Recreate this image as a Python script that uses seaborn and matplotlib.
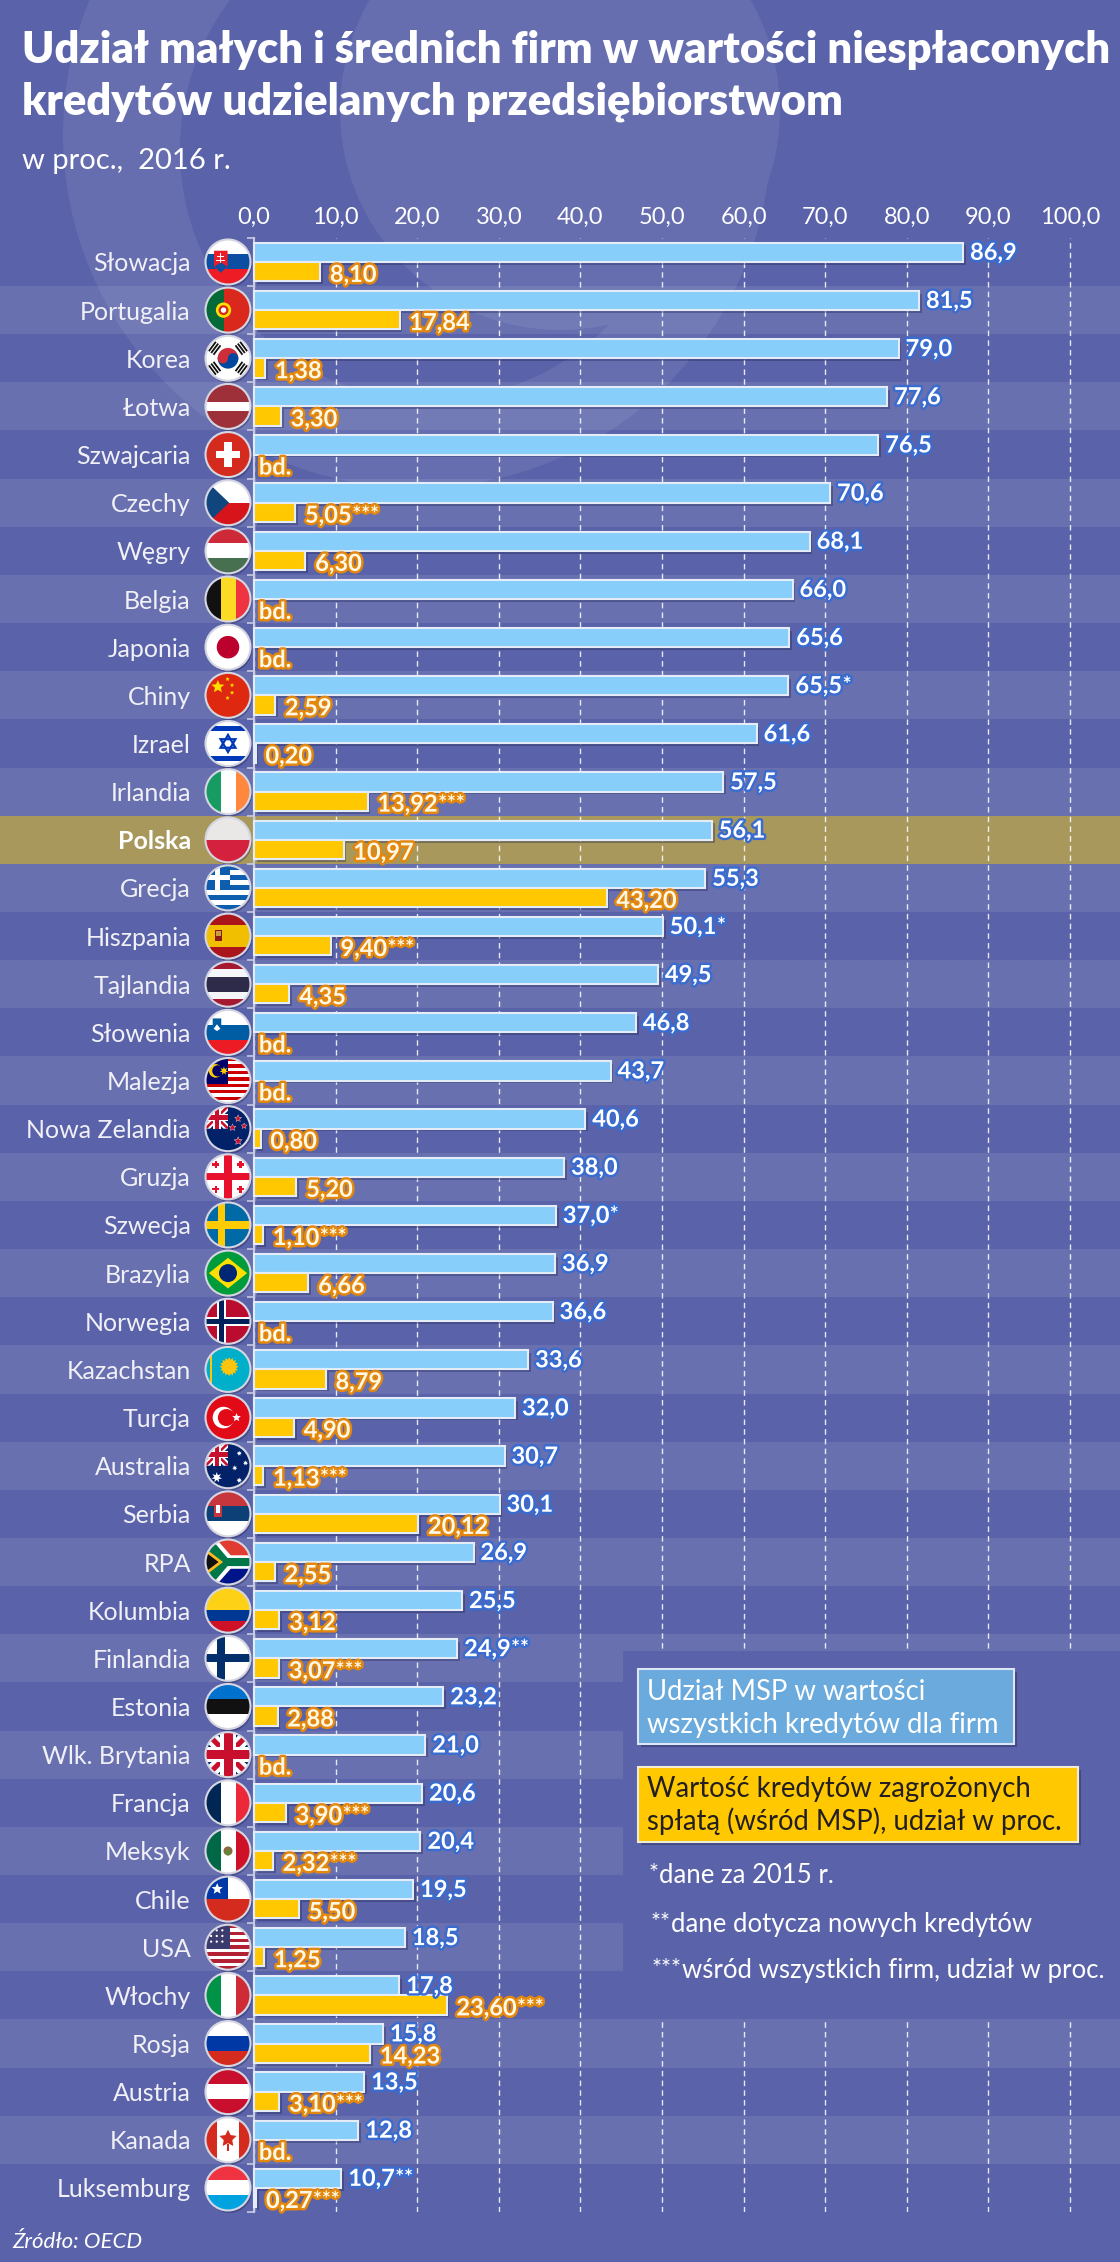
import matplotlib
matplotlib.use('Agg')

import numpy as np
import pandas as pd
import matplotlib.pyplot as plt
import matplotlib.patheffects as pe
from matplotlib.patches import Rectangle, Circle, Polygon, Wedge
import seaborn as sns

plt.rcParams['font.family'] = ['Lato', 'DejaVu Sans']

countries = ["Słowacja", "Portugalia", "Korea", "Łotwa", "Szwajcaria", "Czechy", "Węgry",
             "Belgia", "Japonia", "Chiny", "Izrael", "Irlandia", "Polska", "Grecja",
             "Hiszpania", "Tajlandia", "Słowenia", "Malezja", "Nowa Zelandia", "Gruzja",
             "Szwecja", "Brazylia", "Norwegia", "Kazachstan", "Turcja", "Australia", "Serbia",
             "RPA", "Kolumbia", "Finlandia", "Estonia", "Wlk. Brytania", "Francja", "Meksyk",
             "Chile", "USA", "Włochy", "Rosja", "Austria", "Kanada", "Luksemburg"]

# udział MSP w wartości wszystkich kredytów dla firm
msp_share = [86.9, 81.5, 79.0, 77.6, 76.5, 70.6, 68.1, 66.0, 65.6, 65.5, 61.6, 57.5, 56.1,
             55.3, 50.1, 49.5, 46.8, 43.7, 40.6, 38.0, 37.0, 36.9, 36.6, 33.6, 32.0, 30.7,
             30.1, 26.9, 25.5, 24.9, 23.2, 21.0, 20.6, 20.4, 19.5, 18.5, 17.8, 15.8, 13.5,
             12.8, 10.7]

# kredyty zagrożone (wśród MSP), None = bd.
npl_share = [8.10, 17.84, 1.38, 3.30, None, 5.05, 6.30, None, None, 2.59, 0.20, 13.92,
             10.97, 43.20, 9.40, 4.35, None, None, 0.80, 5.20, 1.10, 6.66, None, 8.79, 4.90,
             1.13, 20.12, 2.55, 3.12, 3.07, 2.88, None, 3.90, 2.32, 5.50, 1.25, 23.60, 14.23,
             3.10, None, 0.27]

msp_notes = {"Chiny": "*", "Hiszpania": "*", "Szwecja": "*", "Finlandia": "**", "Luksemburg": "**"}
npl_notes = {"Czechy": "***", "Irlandia": "***", "Hiszpania": "***", "Szwecja": "***",
             "Australia": "***", "Finlandia": "***", "Francja": "***", "Meksyk": "***",
             "Włochy": "***", "Austria": "***", "Luksemburg": "***"}

x_ticks = list(range(0, 101, 10))

BG = '#5A62A9'
WM = '#666EB0'
BLUE = '#87CEFA'
YELLOW = '#FFC800'
GOLD = '#A8985C'
BLUE_STROKE = '#3A6CD0'
ORANGE_STROKE = '#E3880C'

W, H = 1120, 2262
TOP, ROW = 237.9, 48.15
X0, PX100 = 254, 816
n = len(countries)

fig = plt.figure(figsize=(W / 100, H / 100), dpi=100, facecolor=BG)

# tło ze znakiem wodnym
bg = fig.add_axes([0, 0, 1, 1], zorder=-1)
bg.set_xlim(0, W)
bg.set_ylim(H, 0)
bg.axis('off')
bg.add_patch(Circle((417, 134), 354, fc=WM, lw=0))
bg.add_patch(Circle((430, 150), 250, fc=BG, lw=0))
bg.add_patch(Circle((560, 110), 220, fc=WM, lw=0))

ax = fig.add_axes([0, 1 - (TOP + n * ROW) / H, 1, n * ROW / H])
ax.set_facecolor('none')

df = pd.DataFrame({'kraj': countries * 2,
                   'wartosc': msp_share + [np.nan if v is None else v for v in npl_share],
                   'seria': ['msp'] * n + ['npl'] * n}).dropna()

sns.barplot(data=df, x='wartosc', y='kraj', hue='seria', order=countries,
            hue_order=['msp', 'npl'], palette={'msp': BLUE, 'npl': YELLOW}, saturation=1,
            orient='h', width=0.8, dodge=True, errorbar=None, legend=False,
            edgecolor='#E4ECF8', linewidth=1.5, ax=ax, zorder=3)
for p in list(ax.patches):
    p.set_path_effects([pe.SimplePatchShadow(offset=(2, -2), shadow_rgbFace='#1E2150', alpha=0.35),
                        pe.Normal()])

ax.set_xlim(-X0 / PX100 * 100, (W - X0) / PX100 * 100)
ax.set_ylim(n - 0.5, -0.5)
ax.set_xlabel('')
ax.set_ylabel('')

for i, c in enumerate(countries):
    if c == 'Polska':
        ax.axhspan(i - 0.5, i + 0.5, color=GOLD, lw=0, zorder=0.3)
    elif i % 2:
        ax.axhspan(i - 0.5, i + 0.5, color='white', alpha=0.09, lw=0, zorder=0.2)

ax.set_axisbelow(True)
ax.xaxis.tick_top()
ax.set_xticks(x_ticks)
ax.set_xticklabels([f'{v},0' for v in x_ticks])
ax.tick_params(axis='x', length=0, pad=7, labelsize=17, labelcolor='white')
ax.grid(axis='x', color='white', ls=(0, (4, 3)), lw=1, alpha=0.85)
ax.grid(axis='y', visible=False)

for s in ['top', 'right', 'bottom']:
    ax.spines[s].set_visible(False)
ax.spines['left'].set_position(('data', 0))
ax.spines['left'].set_color('#C8CAE0')
ax.spines['left'].set_linewidth(1.5)

ax.set_yticks(range(n))
ax.set_yticklabels(countries)
ax.set_yticks(np.arange(-0.5, n), minor=True)
ax.tick_params(axis='y', which='major', length=0, pad=45.5, labelsize=18, labelcolor='#F0F0F6')
ax.tick_params(axis='y', which='minor', length=5, width=1.2, color='#C8CAE0')
for t in ax.get_yticklabels():
    if t.get_text() == 'Polska':
        t.set_fontweight('bold')
        t.set_color('white')

# etykiety wartości
blue_fx = [pe.withStroke(linewidth=3.5, foreground=BLUE_STROKE)]
yel_fx = [pe.withStroke(linewidth=3.5, foreground=ORANGE_STROKE)]
for i, (c, v) in enumerate(zip(countries, msp_share)):
    t = ax.text(v + 0.85, i - 0.2, f'{v:.1f}'.replace('.', ','), color='white', fontsize=17,
                fontweight='bold', va='center', ha='left', path_effects=blue_fx, zorder=6)
    if c in msp_notes:
        ax.annotate(msp_notes[c], xy=(1, 1), xycoords=t, xytext=(0.3, -1),
                    textcoords='offset points', fontsize=15, fontweight='bold', color='white',
                    va='top', ha='left', path_effects=blue_fx, zorder=6)
for i, (c, v) in enumerate(zip(countries, npl_share)):
    if v is None:
        ax.text(0.6, i + 0.26, 'bd.', color='#FFF8E6', fontsize=17, fontweight='bold',
                va='center', ha='left', path_effects=yel_fx, zorder=6)
        continue
    t = ax.text(v + 1.2, i + 0.26, f'{v:.2f}'.replace('.', ','), color='#FFF8E6', fontsize=17,
                fontweight='bold', va='center', ha='left', path_effects=yel_fx, zorder=6)
    if c in npl_notes:
        ax.annotate(npl_notes[c], xy=(1, 1), xycoords=t, xytext=(0.3, -1),
                    textcoords='offset points', fontsize=15, fontweight='bold', color='#FFF8E6',
                    va='top', ha='left', path_effects=yel_fx, zorder=6)

# warstwa nakładki w pikselach
ov = fig.add_axes([0, 0, 1, 1], zorder=5)
ov.set_xlim(0, W)
ov.set_ylim(H, 0)
ov.axis('off')


def ypx(y):
    return H - ax.transData.transform((0, y))[1]


ov.text(22, 63, 'Udział małych i średnich firm w wartości niespłaconych', fontsize=31.3,
        fontweight='heavy', color='white', va='baseline')
ov.text(22, 115, 'kredytów udzielanych przedsiębiorstwom', fontsize=31.3,
        fontweight='heavy', color='white', va='baseline')
ov.text(22, 169, 'w proc.,  2016 r.', fontsize=21, color='white', va='baseline')
ov.text(12, 2248, 'Źródło: OECD', fontsize=16, style='italic', color='white', va='baseline')

# legenda
ov.add_patch(Rectangle((623, 1651), W - 623, ypx(36.5) - 1651, fc=BG, lw=0, zorder=1))
shadow = [pe.SimplePatchShadow(offset=(2, -2), shadow_rgbFace='#1E2150', alpha=0.4), pe.Normal()]
ov.add_patch(Rectangle((638, 1669), 376, 75, fc='#6AAADC', ec='#DCE6F4', lw=1.5, zorder=2,
                       path_effects=shadow))
ov.add_patch(Rectangle((638, 1767), 440, 75, fc=YELLOW, ec='#F4ECD0', lw=1.5, zorder=2,
                       path_effects=shadow))
ov.text(647, 1700, 'Udział MSP w wartości', fontsize=19.8, color='white', va='baseline', zorder=3)
ov.text(647, 1733, 'wszystkich kredytów dla firm', fontsize=19.8, color='white', va='baseline',
        zorder=3)
ov.text(647, 1797, 'Wartość kredytów zagrożonych', fontsize=19.8, color='#231F20',
        va='baseline', zorder=3)
ov.text(647, 1830, 'spłatą (wśród MSP), udział w proc.', fontsize=19.8, color='#231F20',
        va='baseline', zorder=3)
for stars, xt, yb, txt in [('*', 659, 1883, 'dane za 2015 r.'),
                           ('**', 671, 1932, 'dane dotycza nowych kredytów'),
                           ('***', 682, 1978, 'wśród wszystkich firm, udział w proc.')]:
    ov.text(xt, yb - 3, stars, fontsize=17, color='white', va='baseline', ha='right', zorder=3)
    ov.text(xt, yb, txt, fontsize=18.5, color='white', va='baseline', zorder=3)


# flagi
def star_pts(x, y, r, k=5, inner=0.45):
    a = -np.pi / 2 + np.arange(2 * k) * np.pi / k
    rr = np.where(np.arange(2 * k) % 2 == 0, r, r * inner)
    return list(zip(x + rr * np.cos(a), y + rr * np.sin(a)))


def draw_flag(name, cx, cy, R):
    clip = Circle((cx, cy), R, transform=ov.transData)

    def put(p):
        p.set_zorder(5)
        ov.add_patch(p)
        p.set_clip_path(clip)

    def poly(pts, c, **kw):
        put(Polygon([(cx + x * R, cy + y * R) for x, y in pts], closed=True, fc=c,
                    ec=kw.get('ec', 'none'), lw=kw.get('lw', 0), fill=kw.get('fill', True)))

    def rect(x, y, w, h, c):
        poly([(x, y), (x + w, y), (x + w, y + h), (x, y + h)], c)

    def disc(x, y, r, c):
        put(Circle((cx + x * R, cy + y * R), r * R, fc=c, lw=0))

    def star(x, y, r, c, k=5, inner=0.45):
        poly(star_pts(x, y, r, k, inner), c)

    def hs(cols, wts=None):
        wts = np.array(wts or [1] * len(cols), float)
        edges = -1 + np.concatenate([[0], np.cumsum(wts)]) / wts.sum() * 2
        for col, a, b in zip(cols, edges[:-1], edges[1:]):
            rect(-1, a, 2, b - a, col)

    def vs(cols, wts=None):
        wts = np.array(wts or [1] * len(cols), float)
        edges = -1 + np.concatenate([[0], np.cumsum(wts)]) / wts.sum() * 2
        for col, a, b in zip(cols, edges[:-1], edges[1:]):
            rect(a, -1, b - a, 2, col)

    def cross(x, y, w, c):
        rect(x - w / 2, -1, w, 2, c)
        rect(-1, y - w / 2, 2, w, c)

    def union_jack(x0, y0, x1, y1):
        w = x1 - x0
        rect(x0, y0, w, y1 - y0, '#012169')
        for t, c in [(0.2 * w, 'white'), (0.08 * w, '#C8102E')]:
            poly([(x0, y0), (x0 + t, y0), (x1, y1 - t), (x1, y1), (x1 - t, y1), (x0, y0 + t)], c)
            poly([(x0, y1), (x0, y1 - t), (x1 - t, y0), (x1, y0), (x1, y0 + t), (x0 + t, y1)], c)
        xm, ym = (x0 + x1) / 2, (y0 + y1) / 2
        for t, c in [(0.34 * w, 'white'), (0.2 * w, '#C8102E')]:
            rect(xm - t / 2, y0, t, y1 - y0, c)
            rect(x0, ym - t / 2, w, t, c)

    if name == 'Słowacja':
        hs(['#FFFFFF', '#0B4EA2', '#EE1C25'])
        poly([(-0.62, -0.5), (-0.02, -0.5), (-0.02, 0.2), (-0.32, 0.5), (-0.62, 0.2)], '#EE1C25')
        rect(-0.35, -0.4, 0.06, 0.6, 'white')
        rect(-0.47, -0.26, 0.30, 0.06, 'white')
        rect(-0.52, -0.1, 0.40, 0.07, 'white')
        poly([(-0.6, 0.2), (-0.32, 0.02), (-0.04, 0.2), (-0.32, 0.48)], '#0B4EA2')
    elif name == 'Portugalia':
        vs(['#046A38', '#DA291C'], [2, 3])
        disc(-0.2, 0, 0.34, '#FFE000')
        disc(-0.2, 0, 0.22, '#DA291C')
        disc(-0.2, 0, 0.12, 'white')
    elif name == 'Korea':
        rect(-1, -1, 2, 2, 'white')
        put(Wedge((cx, cy), 0.46 * R, 180, 360, fc='#CD2E3A', lw=0))
        put(Wedge((cx, cy), 0.46 * R, 0, 180, fc='#0047A0', lw=0))
        disc(-0.23, 0, 0.23, '#CD2E3A')
        disc(0.23, 0, 0.23, '#0047A0')
        for sx, sy in [(-1, -1), (1, -1), (-1, 1), (1, 1)]:
            d = np.array([sx * 0.8, sy * 0.6])
            p = np.array([-d[1], d[0]])
            for k in (-1, 0, 1):
                c0 = 0.74 * d + k * 0.13 * d
                poly([tuple(c0 + p * 0.26 + d * 0.04), tuple(c0 - p * 0.26 + d * 0.04),
                      tuple(c0 - p * 0.26 - d * 0.04), tuple(c0 + p * 0.26 - d * 0.04)], '#111111')
    elif name == 'Łotwa':
        hs(['#9E3039', 'white', '#9E3039'], [2, 1, 2])
    elif name == 'Szwajcaria':
        rect(-1, -1, 2, 2, '#D52B1E')
        rect(-0.16, -0.55, 0.32, 1.1, 'white')
        rect(-0.55, -0.16, 1.1, 0.32, 'white')
    elif name == 'Czechy':
        hs(['white', '#D7141A'])
        poly([(-1, -1), (0.05, 0), (-1, 1)], '#11457E')
    elif name == 'Węgry':
        hs(['#CE2939', 'white', '#477050'])
    elif name == 'Belgia':
        vs(['#111111', '#FDDA24', '#EF3340'])
    elif name == 'Japonia':
        rect(-1, -1, 2, 2, 'white')
        disc(0, 0, 0.5, '#BC002D')
    elif name == 'Chiny':
        rect(-1, -1, 2, 2, '#DE2910')
        star(-0.45, -0.38, 0.3, '#FFDE00')
        for x, y in [(-0.02, -0.72), (0.18, -0.45), (0.18, -0.12), (-0.02, 0.12)]:
            star(x, y, 0.1, '#FFDE00')
    elif name == 'Izrael':
        rect(-1, -1, 2, 2, 'white')
        rect(-1, -0.78, 2, 0.22, '#0038B8')
        rect(-1, 0.56, 2, 0.22, '#0038B8')
        poly([(0, -0.38), (0.33, 0.19), (-0.33, 0.19)], 'none', ec='#0038B8', lw=1.6, fill=False)
        poly([(0, 0.38), (0.33, -0.19), (-0.33, -0.19)], 'none', ec='#0038B8', lw=1.6, fill=False)
    elif name == 'Irlandia':
        vs(['#169B62', 'white', '#FF883E'])
    elif name == 'Polska':
        hs(['#E9E8E7', '#D4213D'])
    elif name == 'Grecja':
        hs(['#0D5EAF', 'white'] * 4 + ['#0D5EAF'])
        rect(-1, -1, 1.111, 1.111, '#0D5EAF')
        rect(-0.556, -1, 0.222, 1.111, 'white')
        rect(-1, -0.556, 1.111, 0.222, 'white')
    elif name == 'Hiszpania':
        hs(['#AA151B', '#F1BF00', '#AA151B'], [1, 2, 1])
        rect(-0.6, -0.28, 0.32, 0.5, '#8C1A1A')
        rect(-0.55, -0.22, 0.22, 0.2, '#C8A040')
    elif name == 'Tajlandia':
        hs(['#A51931', '#F4F5F8', '#2D2A4A', '#F4F5F8', '#A51931'], [1, 1, 2, 1, 1])
    elif name == 'Słowenia':
        hs(['white', '#005DA4', '#ED1C24'])
        poly([(-0.68, -0.62), (-0.3, -0.62), (-0.3, -0.2), (-0.49, -0.02), (-0.68, -0.2)], '#005DA4')
        poly([(-0.64, -0.16), (-0.49, -0.36), (-0.34, -0.16), (-0.49, -0.06)], 'white')
    elif name == 'Malezja':
        hs(['#CC0001', 'white'] * 7)
        rect(-1, -1, 1.0, 1.143, '#010066')
        disc(-0.55, -0.43, 0.3, '#FFCC00')
        disc(-0.45, -0.43, 0.25, '#010066')
        star(-0.18, -0.43, 0.2, '#FFCC00', k=7)
    elif name == 'Nowa Zelandia':
        rect(-1, -1, 2, 2, '#012169')
        union_jack(-1, -1, 0, 0)
        for x, y, r in [(0.45, -0.45, 0.15), (0.2, -0.05, 0.15), (0.72, -0.12, 0.13), (0.45, 0.55, 0.17)]:
            star(x, y, r * 1.2, 'white')
            star(x, y, r, '#C8102E')
    elif name == 'Gruzja':
        rect(-1, -1, 2, 2, 'white')
        cross(0, 0, 0.32, '#E8112D')
        for sx in (-0.55, 0.55):
            for sy in (-0.55, 0.55):
                rect(sx - 0.05, sy - 0.16, 0.1, 0.32, '#E8112D')
                rect(sx - 0.16, sy - 0.05, 0.32, 0.1, '#E8112D')
    elif name == 'Szwecja':
        rect(-1, -1, 2, 2, '#006AA7')
        cross(-0.3, 0, 0.32, '#FECC00')
    elif name == 'Brazylia':
        rect(-1, -1, 2, 2, '#009C3B')
        poly([(-0.85, 0), (0, -0.68), (0.85, 0), (0, 0.68)], '#FFDF00')
        disc(0, 0, 0.4, '#002776')
    elif name == 'Norwegia':
        rect(-1, -1, 2, 2, '#BA0C2F')
        cross(-0.3, 0, 0.42, 'white')
        cross(-0.3, 0, 0.2, '#00205B')
    elif name == 'Kazachstan':
        rect(-1, -1, 2, 2, '#00AFCA')
        star(0.05, -0.12, 0.42, '#FEC50C', k=16, inner=0.75)
        disc(0.05, -0.12, 0.25, '#FEC50C')
        rect(-0.82, -1, 0.1, 2, '#FEC50C')
    elif name == 'Turcja':
        rect(-1, -1, 2, 2, '#E30A17')
        disc(-0.2, 0, 0.48, 'white')
        disc(-0.07, 0, 0.38, '#E30A17')
        star(0.38, 0, 0.2, 'white')
    elif name == 'Australia':
        rect(-1, -1, 2, 2, '#012169')
        union_jack(-1, -1, 0, 0)
        star(-0.5, 0.52, 0.24, 'white', k=7)
        for x, y, r in [(0.5, -0.55, 0.12), (0.78, -0.12, 0.12), (0.3, 0.1, 0.12), (0.5, 0.65, 0.13)]:
            star(x, y, r, 'white', k=7)
    elif name == 'Serbia':
        hs(['#C6363C', '#0C4076', 'white'])
        rect(-0.62, -0.5, 0.36, 0.62, '#C6363C')
        rect(-0.52, -0.38, 0.16, 0.36, 'white')
    elif name == 'RPA':
        hs(['#E03C31', '#001489'])
        poly([(-1, -1), (-0.5, -1), (0.12, -0.3), (1, -0.3), (1, 0.3), (0.12, 0.3), (-0.5, 1), (-1, 1)], 'white')
        poly([(-1, -0.82), (-0.72, -1), (-0.02, -0.18), (1, -0.18), (1, 0.18), (-0.02, 0.18), (-0.72, 1), (-1, 0.82)], '#007749')
        poly([(-1, -0.6), (-0.22, 0), (-1, 0.6)], '#FFB81C')
        poly([(-1, -0.44), (-0.42, 0), (-1, 0.44)], '#111111')
    elif name == 'Kolumbia':
        hs(['#FCD116', '#003893', '#CE1126'], [2, 1, 1])
    elif name == 'Finlandia':
        rect(-1, -1, 2, 2, 'white')
        cross(-0.3, 0, 0.36, '#002F6C')
    elif name == 'Estonia':
        hs(['#0072CE', '#111111', 'white'])
    elif name == 'Wlk. Brytania':
        union_jack(-1, -1, 1, 1)
    elif name == 'Francja':
        vs(['#002654', 'white', '#ED2939'])
    elif name == 'Meksyk':
        vs(['#006847', 'white', '#CE1126'])
        disc(0, 0, 0.2, '#8C6A3F')
        disc(0, 0.08, 0.12, '#5D8A3A')
    elif name == 'Chile':
        rect(-1, -1, 2, 1, 'white')
        rect(-1, -1, 1.0, 1, '#0039A6')
        star(-0.48, -0.45, 0.26, 'white')
        rect(-1, 0, 2, 1, '#D52B1E')
    elif name == 'USA':
        hs(['#B22234', 'white'] * 6 + ['#B22234'])
        rect(-1, -1, 1.1, 1.077, '#3C3B6E')
        for x in (-0.75, -0.5, -0.25):
            for y in (-0.75, -0.5, -0.25):
                disc(x, y, 0.05, 'white')
    elif name == 'Włochy':
        vs(['#009246', 'white', '#CE2B37'])
    elif name == 'Rosja':
        hs(['white', '#0039A6', '#D52B1E'])
    elif name == 'Austria':
        hs(['#C8102E', 'white', '#C8102E'])
    elif name == 'Kanada':
        vs(['#D52B1E', 'white', '#D52B1E'], [1, 2, 1])
        star(0, -0.05, 0.4, '#D52B1E', k=5, inner=0.5)
        rect(-0.03, 0.2, 0.06, 0.28, '#D52B1E')
    elif name == 'Luksemburg':
        hs(['#EF3340', 'white', '#00A3E0'])

    ov.add_patch(Circle((cx + 1.5, cy + 2.5), R, fc='#1A1D4A', alpha=0.35, lw=0, zorder=4))
    ov.add_patch(Circle((cx, cy), R, fc='none', ec='#D5D6E2', lw=1.5, zorder=7))


flag_x = X0 - 26
for i, c in enumerate(countries):
    draw_flag(c, flag_x, ypx(i), 22.5)

fig.savefig('out.png', dpi=100, facecolor=BG)
